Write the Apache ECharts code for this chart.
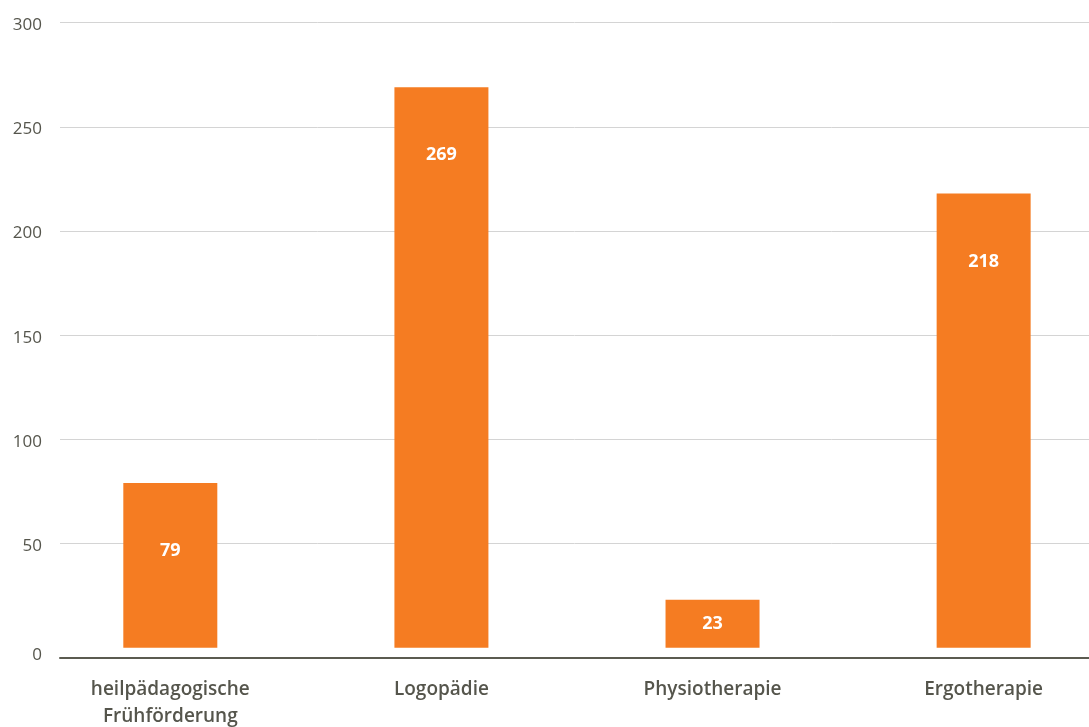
<!DOCTYPE html>
<html>
<head>
<meta charset="utf-8">
<script src="https://cdn.jsdelivr.net/npm/echarts@6/dist/echarts.min.js"></script>
<style>
html,body{margin:0;padding:0;background:#fff;overflow:hidden;width:1089px;height:727px;}
#chart{width:1120px;height:727px;}
</style>
</head>
<body>
<div id="chart"></div>
<script>
var categories = ['heilpädagogische\nFrühförderung', 'Logopädie', 'Physiotherapie', 'Ergotherapie'];
var values = [79, 269, 23, 218];
var yMin = 0, yMax = 300, yStep = 50;

var FONT = '"Open Sans", "Noto Sans", sans-serif';
var TEXT = '#55554c';
var BAR = '#f57c22';

var seriesData = values.map(function (v) {
  var item = { value: v };
  if (v < 40) {
    item.label = { position: 'inside' };
  }
  return item;
});

var chart = echarts.init(document.getElementById('chart'));
chart.setOption({
  animation: false,
  grid: [
    { left: 60, right: 31, top: 22.7, height: 625, outerBoundsMode: 'none', containLabel: false },
    { left: 34.75, right: 0.8, top: 22.7, height: 625, outerBoundsMode: 'none', containLabel: false },
    { left: 60, right: 31, top: 22.7, height: 634.6, outerBoundsMode: 'none', containLabel: false }
  ],
  xAxis: [
    {
      gridIndex: 0, type: 'category', data: categories, show: false
    },
    {
      gridIndex: 1, type: 'category', data: categories,
      axisLine: { show: false }, axisTick: { show: false },
      axisLabel: {
        color: TEXT, fontFamily: FONT, fontSize: 19, fontWeight: 600,
        lineHeight: 27, margin: 28, interval: 0
      }
    },
    {
      gridIndex: 2, type: 'category', data: categories,
      axisLine: { show: true, lineStyle: { color: '#5b5b50', width: 2 } },
      axisTick: { show: false }, axisLabel: { show: false }, splitLine: { show: false }
    }
  ],
  yAxis: [
    {
      gridIndex: 0, type: 'value', min: yMin, max: yMax, interval: yStep,
      axisLine: { show: false }, axisTick: { show: false },
      splitLine: { show: true, showMinLine: false, lineStyle: { color: '#d4d4d4', width: 1 } },
      axisLabel: {
        color: TEXT, fontFamily: FONT, fontSize: 17, margin: 18,
        padding: [5, 0, 0, 0],
        formatter: function (v) { return v === 0 ? '{z|0}' : String(v); },
        rich: { z: { fontFamily: FONT, fontSize: 17, color: TEXT, padding: [10, 0, 0, 0] } }
      }
    },
    {
      gridIndex: 1, type: 'value', min: yMin, max: yMax, interval: yStep, show: false,
      splitLine: { show: false }
    },
    {
      gridIndex: 2, type: 'value', min: yMin, max: yMax, show: false,
      splitLine: { show: false }
    }
  ],
  series: [
    {
      type: 'bar', xAxisIndex: 1, yAxisIndex: 1,
      data: seriesData,
      barWidth: 94,
      itemStyle: { color: BAR },
      label: {
        show: true, position: 'insideTop', distance: 59,
        color: '#ffffff', fontFamily: FONT, fontSize: 18, fontWeight: 'bold'
      }
    }
  ]
});
</script>
</body>
</html>
